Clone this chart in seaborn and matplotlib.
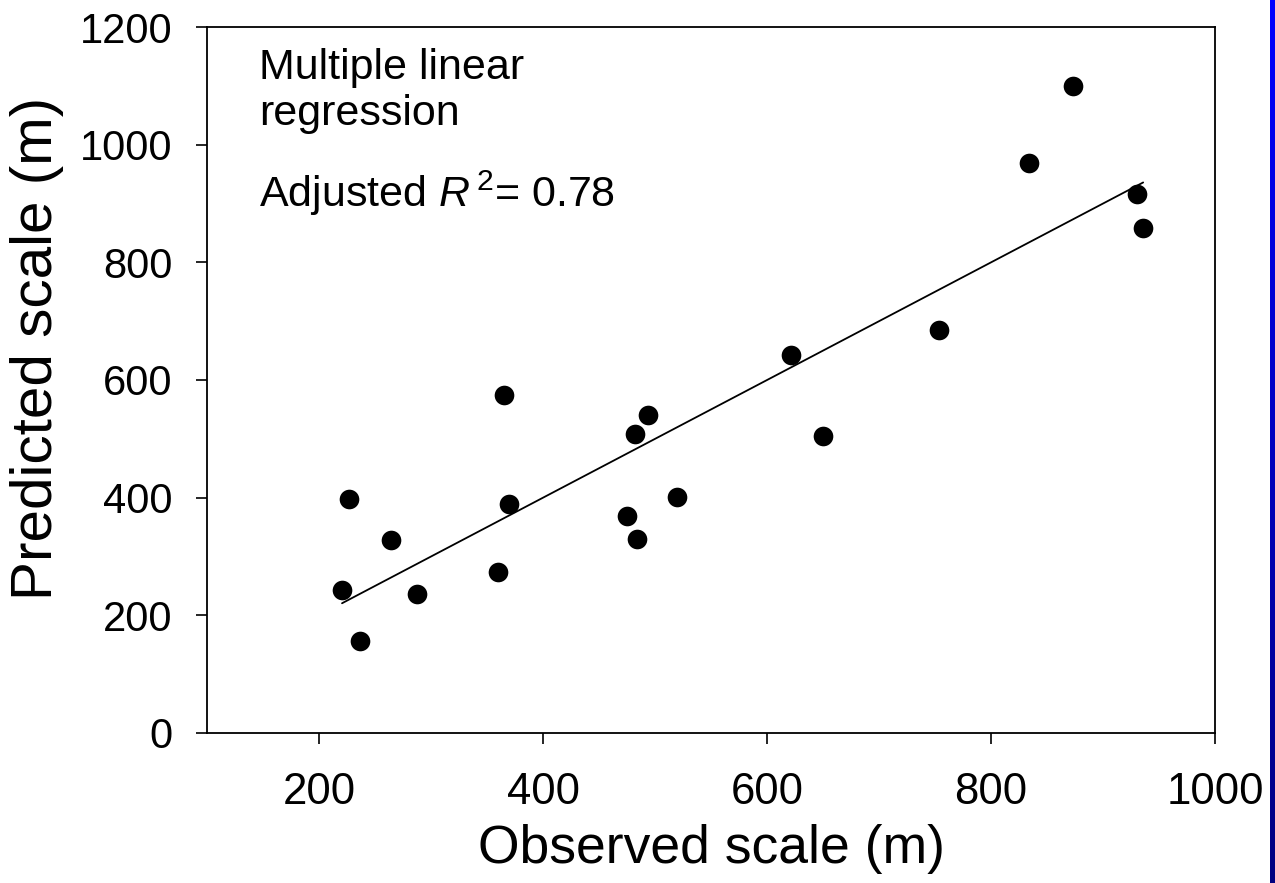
import numpy as np
import pandas as pd
import matplotlib
matplotlib.use("Agg")
import matplotlib.pyplot as plt
import seaborn as sns

# ----------------------------------------
# Data
# ----------------------------------------
observed = [220.5, 226.8, 236.6, 264.0, 287.0, 360.0, 365.0, 369.5, 474.7, 481.8,
            483.6, 493.4, 519.3, 621.8, 649.5, 753.8, 834.0, 873.3, 930.4, 935.8]
predicted = [243, 398, 156, 328, 236, 274, 575, 389, 369, 508,
             330, 540, 401, 642, 505, 685, 969, 1100, 916, 858]

x_ticks = [200, 400, 600, 800, 1000]
y_ticks = [0, 200, 400, 600, 800, 1000, 1200]

df = pd.DataFrame({"observed": observed, "predicted": predicted})

# ----------------------------------------
# Style
# ----------------------------------------
sns.set_style("ticks")
plt.rcParams["font.family"] = ["Liberation Sans", "DejaVu Sans"]
plt.rcParams["text.color"] = "black"
plt.rcParams["axes.labelcolor"] = "black"
plt.rcParams["mathtext.fontset"] = "custom"
plt.rcParams["mathtext.it"] = "Liberation Sans:italic"
plt.rcParams["mathtext.rm"] = "Liberation Sans"

fig = plt.figure(figsize=(12.75, 8.83), dpi=100)
ax = fig.add_axes([0.1624, 0.1699, 0.953 - 0.1624, 0.9694 - 0.1699])

# ---- scatter points
sns.scatterplot(data=df, x="observed", y="predicted", ax=ax,
                color="black", s=200, edgecolor="black", linewidth=0, zorder=3)

# ---- fitted line (observed on predicted -> 1:1 over the observed range)
line_x = [df["observed"].min(), df["observed"].max()]
sns.lineplot(x=line_x, y=line_x, ax=ax, color="black", linewidth=1.3, zorder=2)

ax.set_xlim(100, 1000)
ax.set_ylim(0, 1200)
ax.set_xticks(x_ticks)
ax.set_yticks(y_ticks)
ax.tick_params(axis="both", direction="out", length=8, width=1.2, colors="black")
ax.tick_params(axis="x", pad=20, labelsize=31.5)
ax.tick_params(axis="y", pad=17, labelsize=30)
for side in ["top", "right", "bottom", "left"]:
    ax.spines[side].set_visible(True)
    ax.spines[side].set_linewidth(1.3)
    ax.spines[side].set_color("black")

ax.set_xlabel("Observed scale (m)", fontsize=38.5, labelpad=8)
ax.set_ylabel("Predicted scale (m)", fontsize=42)
ax.yaxis.set_label_coords(-0.142, 0.545)

ax.text(0.052, 0.97, "Multiple linear\nregression", transform=ax.transAxes,
        fontsize=31, va="top", ha="left", linespacing=1.2)
ax.text(0.052, 0.8, r"Adjusted $R^{\,2}$= 0.78", transform=ax.transAxes,
        fontsize=31, va="top", ha="left")

# ---- blue strip at the right edge
bar_ax = fig.add_axes([1270 / 1275, 0, 5 / 1275, 1])
grad = np.linspace(0, 1, 256).reshape(-1, 1)
cmap = matplotlib.colors.LinearSegmentedColormap.from_list("strip", ["#0000ff", "#000080"])
bar_ax.imshow(grad, aspect="auto", cmap=cmap)
bar_ax.set_axis_off()

plt.savefig("out.png", dpi=100)
